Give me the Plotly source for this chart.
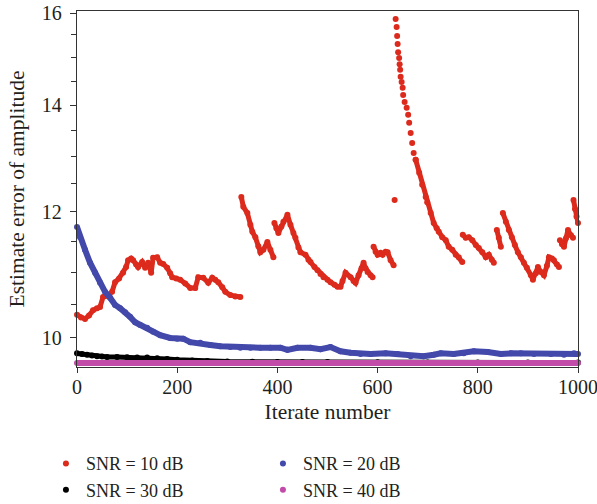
import plotly.graph_objects as go

# ---------------- data ----------------
# SNR = 10 dB : segments separated by None (jumps in the curve)
red_x = [0, 8, 16, 24, 32, 40, 46, 52, 60, 70, 76, 84, 92, 98, 102, 108, 112, 118, 122, 130,
         136, 142, 148, 152, 160, 166, 172, 180, 186, 190, 198, 206, 216, 226, 236, 242, 252,
         262, 270, 276, 282, 290, 296, 306, 316, 326, None,
         328, 332, 340, 346, 350, 356, 362, 366, 372, 380, 386, 392, None,
         394, 398, 402, 408, 412, 420, 426, 432, 436, 442, 446, 456, 462, 466, 474, 480, 486,
         492, 500, 506, 514, 520, 526, 530, 536, 546, 552, 556, 562, 568, 572, 576, 580, 586,
         590, None,
         592, 596, 600, 606, 610, 616, 620, 626, 632, None,
         634, None,
         676, 683, 689, 696, 699, 706, 712, 718, 722, 729, 736, 742, 749, 756, 762, 769, None,
         770, 776, 782, 789, 796, 802, 809, 816, 822, 828, 832, None,
         838, 842, 846, None,
         850, 856, 862, 868, 874, 880, 886, 892, 898, 906, 910, 916, 920, 926, 932, 938, 942,
         948, 952, 958, 962, None,
         964, 968, 972, 976, 980, 986, 990, None,
         991, 994, 997, 1000]
red_y = [10.34, 10.30, 10.28, 10.33, 10.41, 10.44, 10.46, 10.61, 10.63, 10.69, 10.84, 10.90,
         10.99, 11.08, 11.19, 11.22, 11.19, 11.12, 11.08, 11.16, 11.07, 11.15, 10.99, 11.23,
         11.24, 11.15, 11.13, 11.07, 10.98, 10.92, 10.90, 10.88, 10.82, 10.75, 10.75, 10.92,
         10.91, 10.83, 10.91, 10.88, 10.84, 10.76, 10.69, 10.64, 10.62, 10.61, None,
         12.26, 12.09, 11.98, 11.78, 11.66, 11.57, 11.42, 11.32, 11.36, 11.49, 11.36, 11.24, None,
         11.81, 11.72, 11.64, 11.75, 11.83, 11.95, 11.78, 11.64, 11.56, 11.40, 11.32, 11.28,
         11.20, 11.16, 11.08, 11.03, 10.97, 10.92, 10.88, 10.84, 10.80, 10.77, 10.77, 10.86,
         10.99, 10.92, 10.86, 10.83, 10.95, 11.06, 11.15, 11.06, 11.00, 10.95, 10.92, None,
         11.41, 11.33, 11.28, 11.31, 11.28, 11.33, 11.32, 11.19, 11.11, None,
         12.21, None,
         12.94, 12.70, 12.48, 12.26, 12.17, 11.98, 11.81, 11.72, 11.66, 11.57, 11.52, 11.41,
         11.36, 11.28, 11.24, 11.16, None,
         11.61, 11.56, 11.57, 11.52, 11.44, 11.39, 11.32, 11.24, 11.28, 11.20, 11.15, None,
         11.69, 11.56, 11.41, None,
         11.98, 11.83, 11.69, 11.57, 11.44, 11.32, 11.24, 11.15, 11.07, 10.95, 10.88, 10.98,
         11.08, 11.00, 10.95, 11.10, 11.24, 11.22, 11.19, 11.12, 11.08, None,
         11.52, 11.45, 11.41, 11.55, 11.69, 11.60, 11.56, None,
         12.21, 12.05, 11.92, 11.81]
# steep part right after the jump (separate dots)
red_spike_x = [635, 636, 638, 639, 640, 641, 643, 644, 645, 646, 648, 650, 651, 654, 658, 661,
               663, 666, 669, 672, 676]
red_spike_y = [16.05, 15.86, 15.68, 15.48, 15.30, 15.12, 14.99, 14.86, 14.74, 14.59, 14.48,
               14.36, 14.21, 14.07, 13.95, 13.81, 13.65, 13.45, 13.26, 13.07, 12.94]

# SNR = 20 dB
blue_x = [0, 6, 16, 26, 36, 46, 56, 66, 76, 86, 96, 106, 116, 126, 140, 152, 166, 186, 200,
          212, 226, 246, 266, 286, 306, 326, 346, 366, 386, 406, 420, 440, 466, 486, 506, 526,
          546, 566, 586, 616, 640, 666, 692, 712, 726, 752, 772, 792, 820, 846, 866, 886, 912,
          946, 972, 992, 1000]
blue_y = [11.74, 11.57, 11.36, 11.15, 10.99, 10.83, 10.69, 10.60, 10.49, 10.44, 10.38, 10.31,
          10.23, 10.19, 10.15, 10.09, 10.04, 10.00, 9.99, 9.99, 9.94, 9.93, 9.90, 9.88, 9.87,
          9.86, 9.86, 9.86, 9.86, 9.86, 9.83, 9.86, 9.86, 9.84, 9.87, 9.81, 9.79, 9.77, 9.77,
          9.78, 9.77, 9.74, 9.74, 9.76, 9.78, 9.77, 9.78, 9.81, 9.80, 9.77, 9.78, 9.78, 9.77,
          9.77, 9.76, 9.78, 9.77]

# SNR = 30 dB
black_x = [0, 10, 20, 30, 40, 50, 60, 80, 100, 120, 140, 160, 180, 200, 230, 260, 300, 350,
           400, 450, 500, 600, 700, 800, 900, 1000]
black_y = [9.78, 9.77, 9.76, 9.75, 9.74, 9.735, 9.73, 9.728, 9.725, 9.722, 9.72, 9.71, 9.70,
           9.69, 9.68, 9.672, 9.665, 9.662, 9.66, 9.66, 9.66, 9.655, 9.65, 9.65, 9.65, 9.65]

# SNR = 40 dB
pink_x = [0, 100, 200, 300, 400, 500, 600, 700, 800, 900, 1000]
pink_y = [9.645, 9.645, 9.644, 9.645, 9.645, 9.644, 9.645, 9.645, 9.644, 9.645, 9.645]

series_names = ["SNR = 10 dB", "SNR = 20 dB", "SNR = 30 dB", "SNR = 40 dB"]
x_ticks = [0, 200, 400, 600, 800, 1000]
y_ticks = [10, 12, 14, 16]
y_minor = [10.5, 11, 11.5, 12.5, 13, 13.5, 14.5, 15, 15.5]

# ---------------- figure ----------------
RED, BLUE, BLACK, PINK = "#dc2a1c", "#4349aa", "#000000", "#c24ba9"
FONT = "Liberation Serif"

fig = go.Figure()


def add_series(xl, yl, xm, ym, color, name, lw=5, ms=6):
    fig.add_trace(go.Scatter(x=xl, y=yl, mode="lines", line=dict(color=color, width=lw),
                             connectgaps=False, showlegend=False, hoverinfo="skip"))
    fig.add_trace(go.Scatter(x=xm, y=ym, mode="markers", name=name,
                             marker=dict(color=color, size=ms, line=dict(width=0)),
                             cliponaxis=False))


add_series(red_x, red_y, red_x + [None] + red_spike_x, red_y + [None] + red_spike_y,
           RED, series_names[0])
add_series(blue_x, blue_y, blue_x, blue_y, BLUE, series_names[1], lw=6)
add_series(black_x, black_y, black_x, black_y, BLACK, series_names[2], lw=5)
add_series(pink_x, pink_y, pink_x, pink_y, PINK, series_names[3], lw=6)

axis_common = dict(showline=True, linecolor="#333333", linewidth=1.3, mirror=True,
                   ticks="outside", tickcolor="#333333", tickwidth=1.2, showgrid=False,
                   zeroline=False, automargin=False, ticklabeloverflow="allow",
                   tickfont=dict(family=FONT, size=20, color="#231f20"))

fig.update_layout(
    width=597, height=504,
    margin=dict(l=77, r=19, t=11, b=137, autoexpand=False),
    paper_bgcolor="white", plot_bgcolor="white",
    font=dict(family=FONT, color="#231f20"),
    xaxis=dict(range=[0, 1000], tickvals=x_ticks, ticklen=5, ticklabelstandoff=-3,
               title=dict(text="Iterate number", font=dict(family=FONT, size=21.5), standoff=6),
               **axis_common),
    yaxis=dict(type="log", range=[0.98177, 1.2054], tickvals=y_ticks,
               ticktext=[str(v) for v in y_ticks], ticklen=6, ticklabelstandoff=4,
               minor=dict(tickvals=y_minor, ticks="outside", ticklen=5, tickcolor="#333333",
                          tickwidth=1.2, showgrid=False),
               title=dict(text="Estimate error of amplitude", font=dict(family=FONT, size=21.5),
                          standoff=11),
               **axis_common),
    legend=dict(orientation="h", x=-0.062, xanchor="left", y=-0.2196, yanchor="top",
                entrywidthmode="pixels", entrywidth=172, tracegroupgap=0,
                font=dict(family=FONT, size=18, color="#231f20"),
                bgcolor="rgba(0,0,0,0)"),
    showlegend=True,
)

fig.write_html("out.html", config={"displayModeBar": False},
               post_script="document.body.style.margin='0px';")
